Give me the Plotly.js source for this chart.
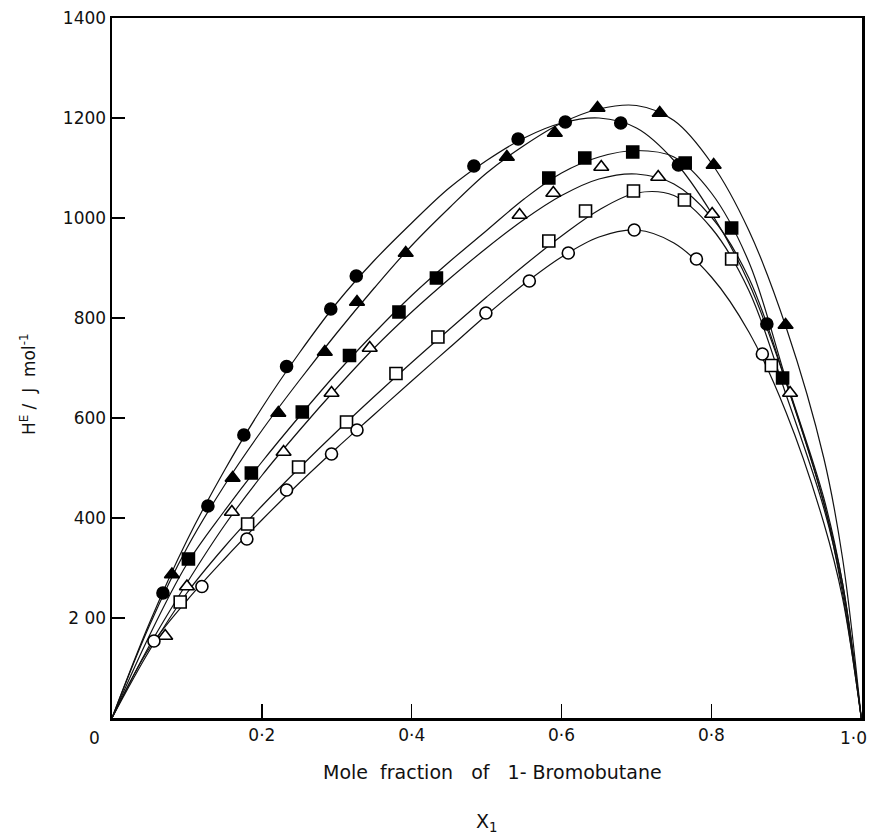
<!DOCTYPE html>
<html>
<head>
<meta charset="utf-8">
<script src="https://cdn.plot.ly/plotly-3.0.1.min.js"></script>
<style>html,body{margin:0;padding:0;background:#fff;}#chart{width:873px;height:836px;}</style>
</head>
<body>
<div id="chart"></div>
<script>
// Measured points (x1, H^E in J/mol)
const fcX = [0.068,0.128,0.176,0.233,0.292,0.326,0.483,0.542,0.605,0.679,0.756,0.874];
const fcY = [250,424,566,703,818,884,1104,1158,1192,1190,1106,788];
const ftX = [0.080,0.161,0.222,0.284,0.327,0.392,0.527,0.591,0.648,0.731,0.803,0.899];
const ftY = [287,480,610,732,832,930,1122,1170,1220,1210,1106,786];
const fsX = [0.102,0.186,0.254,0.317,0.383,0.433,0.583,0.631,0.695,0.765,0.827,0.895];
const fsY = [318,490,612,725,812,880,1080,1120,1132,1110,980,680];
const otX = [0.071,0.100,0.160,0.229,0.293,0.344,0.544,0.589,0.653,0.729,0.801,0.905];
const otY = [164,263,412,532,650,740,1006,1050,1102,1082,1008,650];
const osX = [0.091,0.181,0.249,0.313,0.379,0.435,0.583,0.632,0.696,0.764,0.827,0.880];
const osY = [232,388,502,592,689,762,954,1014,1054,1036,918,705];
const ocX = [0.056,0.120,0.180,0.233,0.293,0.327,0.499,0.557,0.609,0.697,0.780,0.868];
const ocY = [154,263,358,456,528,576,810,874,930,976,918,728];

// Fitted curves
const curveX = [0,0.05,0.1,0.15,0.2,0.25,0.3,0.35,0.4,0.45,0.5,0.55,0.6,0.65,0.7,0.75,0.8,0.85,0.9,0.95,0.975,1.0];
const fcCurve = [0,190,355,495,620,730,830,915,990,1060,1115,1160,1190,1200,1180,1115,1010,870,670,430,250,0];
const ftCurve = [0,185,340,465,575,675,770,860,945,1020,1090,1145,1190,1218,1225,1195,1110,975,780,520,320,0];
const fsCurve = [0,165,308,414,512,603,690,770,845,912,975,1038,1090,1122,1135,1122,1050,912,675,440,270,0];
const otCurve = [0,145,270,385,485,575,660,740,812,878,940,997,1045,1078,1088,1068,1002,880,670,430,270,0];
const osCurve = [0,135,250,342,424,500,573,643,711,777,842,905,964,1016,1050,1045,980,855,645,420,260,0];
const ocCurve = [0,140,235,318,396,470,540,607,674,740,806,868,922,962,976,950,882,772,610,390,240,0];

const xTickVals = [0.2,0.4,0.6,0.8,1.0];
const xTickText = ['0·2','0·4','0·6','0·8',''];
const xEndLabel = '1·0';
const yTickVals = [200,400,600,800,1000,1200,1400];
const yTickText = ['2 00','400','600','800','1000','1200','1400'];

const curves = [fcCurve, ftCurve, fsCurve, otCurve, osCurve, ocCurve];
const traces = [];
curves.forEach(c => traces.push({
  x: curveX, y: c, mode: 'lines', type: 'scatter', hoverinfo: 'skip',
  line: {color: '#111', width: 1.2, shape: 'spline', smoothing: 1.0}, showlegend: false
}));
function pts(x, y, sym, filled) {
  return {x: x, y: y, mode: 'markers', type: 'scatter', showlegend: false,
    marker: {symbol: sym, size: sym === 'triangle-up' ? 13 : 12,
      color: filled ? '#000' : '#fff', line: {color: '#000', width: 1.6}}};
}
traces.push(pts(fcX, fcY, 'circle', true));
traces.push(pts(ftX, ftY, 'triangle-up', true));
traces.push(pts(fsX, fsY, 'square', true));
traces.push(pts(otX, otY, 'triangle-up', false));
traces.push(pts(osX, osY, 'square', false));
traces.push(pts(ocX, ocY, 'circle', false));

const fam = 'DejaVu Sans, sans-serif';
const layout = {
  width: 873, height: 836,
  margin: {l: 112, r: 11, t: 18, b: 118},
  paper_bgcolor: '#fff', plot_bgcolor: '#fff',
  font: {family: fam, color: '#111'},
  xaxis: {range: [0, 1.001], showgrid: false, zeroline: false, showline: true, mirror: true,
    linecolor: '#000', linewidth: 2.5, ticks: 'inside', ticklen: 14, tickwidth: 1.5, tickcolor: '#000',
    tickvals: xTickVals, ticktext: xTickText, tickfont: {family: fam, size: 17, color: '#111'}},
  yaxis: {range: [0, 1400], showgrid: false, zeroline: false, showline: true, mirror: true,
    linecolor: '#000', linewidth: 2.5, ticks: 'inside', ticklen: 13, tickwidth: 1.2, tickcolor: '#000',
    tickvals: yTickVals, ticktext: yTickText, tickfont: {family: fam, size: 17, color: '#111'}},
  annotations: [
    {text: '0', xref: 'paper', yref: 'paper', x: -0.0227, y: -0.0286, showarrow: false,
      xanchor: 'center', yanchor: 'middle', font: {family: fam, size: 17, color: '#111'}},
    {text: xEndLabel, xref: 'paper', yref: 'paper', x: 1.0093, y: -0.0286, showarrow: false,
      xanchor: 'right', yanchor: 'middle', font: {family: fam, size: 17, color: '#111'}},
    {text: 'Mole  fraction   of   1- Bromobutane', xref: 'paper', yref: 'paper', x: 0.507, y: -0.077,
      showarrow: false, xanchor: 'center', yanchor: 'middle', font: {family: fam, size: 19, color: '#111'}},
    {text: 'X<sub>1</sub>', xref: 'paper', yref: 'paper', x: 0.5, y: -0.149,
      showarrow: false, xanchor: 'center', yanchor: 'middle', font: {family: fam, size: 19, color: '#111'}},
    {text: 'H<sup>E</sup> /  J  mol<sup>-1</sup>', xref: 'paper', yref: 'paper', x: -0.112, y: 0.477,
      textangle: -90, showarrow: false, xanchor: 'center', yanchor: 'middle',
      font: {family: fam, size: 17, color: '#111'}}
  ]
};
Plotly.newPlot('chart', traces, layout, {staticPlot: true});
</script>
</body>
</html>
